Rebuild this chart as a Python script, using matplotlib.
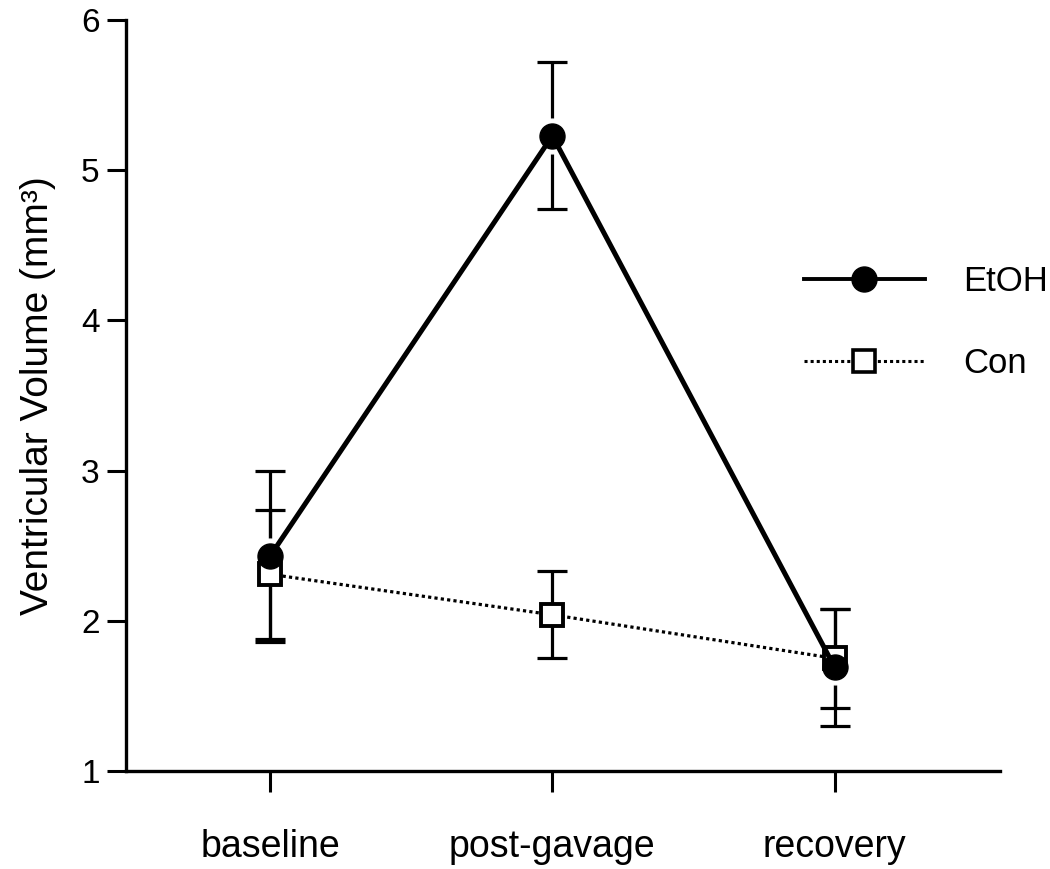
import numpy as np
import matplotlib.pyplot as plt
from matplotlib.lines import Line2D

plt.rcParams['font.family'] = ['Liberation Sans', 'DejaVu Sans']

groups = ['baseline', 'post-gavage', 'recovery']
etoh_mean = [2.43, 5.23, 1.69]
etoh_err = [0.57, 0.49, 0.39]
con_mean = [2.31, 2.04, 1.75]
con_err = [0.43, 0.29, 0.33]

x = np.arange(len(groups))

fig = plt.figure(figsize=(10.5, 8.69), dpi=100)
ax = fig.add_axes([0.12, 0.1128, 0.832, 0.864])

# error bars
ax.errorbar(x, etoh_mean, yerr=etoh_err, fmt='none', ecolor='black',
            elinewidth=2.3, capsize=11, capthick=2.3, zorder=1)
ax.errorbar(x, con_mean, yerr=con_err, fmt='none', ecolor='black',
            elinewidth=2.3, capsize=11, capthick=2.3, zorder=1)

# white halo so error bars stop short of the filled circles
ax.plot(x, etoh_mean, 'o', color='white', markersize=25, zorder=2)

ax.plot(x, con_mean, color='black', linestyle=(0, (1, 1)), linewidth=2.3,
        marker='s', markersize=16, markerfacecolor='white',
        markeredgecolor='black', markeredgewidth=2.8, zorder=3)
ax.plot(x, etoh_mean, color='black', linestyle='-', linewidth=3.6,
        marker='o', markersize=18, markerfacecolor='black',
        markeredgecolor='black', zorder=4)

ax.set_xlim(-0.51, 2.584)
ax.set_ylim(1, 6)
ax.set_xticks(x)
ax.set_xticklabels(groups, fontsize=27)
ax.set_yticks([1, 2, 3, 4, 5, 6])
ax.tick_params(axis='y', labelsize=24, length=14, width=2.2, pad=5)
ax.tick_params(axis='x', length=15, width=2.2, pad=27)

for s in ['top', 'right']:
    ax.spines[s].set_visible(False)
for s in ['left', 'bottom']:
    ax.spines[s].set_linewidth(2.4)

ax.set_ylabel('Ventricular Volume (mm³)', fontsize=28, labelpad=18)

handles = [
    Line2D([], [], color='black', linewidth=2.8, marker='o', markersize=18,
           markerfacecolor='black'),
    Line2D([], [], color='black', linewidth=2.2, linestyle=(0, (1, 1)), marker='s',
           markersize=16, markerfacecolor='white', markeredgewidth=2.6),
]
ax.legend(handles, ['EtOH', 'Con'], loc='upper left',
          bbox_to_anchor=(0.74, 0.715), frameon=False, fontsize=25,
          handlelength=3.5, handletextpad=1.1, labelspacing=1.4)

fig.savefig('out.png', dpi=100)
